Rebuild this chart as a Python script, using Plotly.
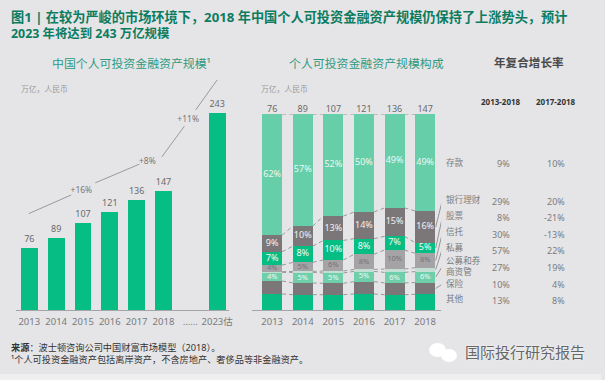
import plotly.graph_objects as go

W, H = 605, 380
FONT = "Noto Sans, Noto Sans CJK SC"

# Left chart
years_left = ["2013", "2014", "2015", "2016", "2017", "2018", "……", "2023估"]
left_pos = [0, 1, 2, 3, 4, 5, 7]
left_values = [76, 89, 107, 121, 136, 147, 243]
trend_x = [-0.02, 1.56, None, 2.46, 4.1, None, 4.94, 5.78, None, 6.2, 7.0]
trend_y = [119, 142, None, 157, 180, None, 189, 227, None, 247, 284]
trend_labels = ["+16%", "+8%", "+11%"]
trend_label_x = [1.94, 4.4, 5.92]
trend_label_y = [147, 183, 235]

# Right chart
years_right = ["2013", "2014", "2015", "2016", "2017", "2018"]
totals = [76, 89, 107, 121, 136, 147]
other = [8.2, 7.8, 7.8, 8.2, 7.8, 8.0]
insurance = [6.6, 6.0, 5.8, 6.3, 6.0, 6.0]
funds = [4.4, 5.4, 5.3, 5.2, 5.4, 5.6]
private_eq = [0.3, 0.5, 1.0, 1.0, 1.7, 2.0]
trusts = [3.4, 4.6, 5.6, 7.7, 9.7, 7.3]
stocks = [6.8, 8.3, 10.0, 8.0, 7.0, 5.4]
wealth = [8.5, 10.2, 12.4, 13.6, 14.5, 16.2]
deposits = [61.7, 57.1, 52.0, 50.0, 47.9, 49.5]

deposit_labels = ["62%", "57%", "52%", "50%", "49%", "49%"]
wealth_labels = ["9%", "10%", "13%", "14%", "15%", "16%"]
stock_labels = ["7%", "8%", "10%", "8%", "7%", "5%"]
trust_labels = ["4%", "5%", "6%", "8%", "10%", "8%"]
fund_labels = ["4%", "5%", "5%", "5%", "6%", "6%"]

# Growth table
cat_names = ["存款", "银行理财", "股票", "信托", "私募", "公募和券<br>商资管", "保险", "其他"]
cagr_long = ["9%", "29%", "8%", "30%", "57%", "27%", "10%", "13%"]
cagr_short = ["10%", "20%", "-21%", "-13%", "22%", "19%", "4%", "8%"]

BG = "#e5e5e8"
GREEN = "#06bd84"
DARK = "#7b7779"
MINT = "#66cea8"
GREY = "#a5a3a5"
PALE = "#c3dfd3"
MINT2 = "#70cfab"

def px(x):
    return x / W

def py(y):
    return 1 - y / H

fig = go.Figure()

# Left bars
fig.add_bar(x=left_pos, y=left_values, width=0.63, marker=dict(color=GREEN, line_width=0),
            text=[str(v) for v in left_values], textposition="outside", cliponaxis=False,
            textfont=dict(size=9, color="#6a6a6a", family=FONT), xaxis="x", yaxis="y", showlegend=False)
fig.add_scatter(x=trend_x, y=trend_y, mode="lines", line=dict(color="#9a9a9a", width=1),
                xaxis="x", yaxis="y", showlegend=False, cliponaxis=False)
fig.add_scatter(x=trend_label_x, y=trend_label_y, mode="text", text=trend_labels,
                textfont=dict(size=8.5, color="#777777", family=FONT), xaxis="x", yaxis="y",
                showlegend=False, cliponaxis=False)

# Right stacked bars
stack = [other, insurance, funds, private_eq, trusts, stocks, wealth, deposits]
colors = [GREEN, DARK, MINT2, PALE, GREY, GREEN, DARK, MINT]
xs = list(range(6))
for vals, col in zip(stack, colors):
    fig.add_bar(x=xs, y=vals, width=0.65, marker=dict(color=col, line_width=0),
                xaxis="x2", yaxis="y2", showlegend=False)

# Stack boundaries for connectors and labels
cum = []
running = [0.0] * 6
for vals in stack:
    running = [r + v for r, v in zip(running, vals)]
    cum.append(list(running))

half = 0.325
for level in cum[:-1]:
    lx, ly = [], []
    for i in range(5):
        lx += [i + half, i + 1 - half, None]
        ly += [level[i], level[i + 1], None]
    fig.add_scatter(x=lx, y=ly, mode="lines", line=dict(color="#8e8e8e", width=0.9, dash="4px,3px"),
                    xaxis="x2", yaxis="y2", showlegend=False)
lx, ly = [], []
for i in range(5):
    lx += [i + half, i + 1 - half, None]
    ly += [100, 100, None]
fig.add_scatter(x=lx, y=ly, mode="lines", line=dict(color="#8e8e8e", width=0.9, dash="4px,3px"),
                xaxis="x2", yaxis="y2", showlegend=False)

def seg_labels(idx, labels, color, size=9):
    mids = [c - v / 2 for c, v in zip(cum[idx], stack[idx])]
    fig.add_scatter(x=xs, y=mids, mode="text", text=labels,
                    textfont=dict(size=size, color=color, family=FONT),
                    xaxis="x2", yaxis="y2", showlegend=False)

seg_labels(7, deposit_labels, "#eef8f4")
seg_labels(6, wealth_labels, "#f2f2f2")
seg_labels(5, stock_labels, "#f2fbf7")
seg_labels(4, trust_labels, "#757375", 7.5)
seg_labels(2, fund_labels, "#eef8f4", 7.5)

fig.add_scatter(x=xs, y=[100] * 6, mode="text", text=[str(t) for t in totals], textposition="top center",
                textfont=dict(size=9, color="#6a6a6a", family=FONT), xaxis="x2", yaxis="y2",
                showlegend=False, cliponaxis=False)

# Leader lines from the 2018 bar to the names at right
row_y = [163, 201, 217, 234, 250, 267, 284, 300]
name_y = [163, 199.5, 216, 232, 248, 266, 284, 299]
leader_map = [(6, 1), (5, 2), (4, 3), (3, 4), (2, 5), (1, 6)]
for s_idx, r_idx in leader_map:
    mid = cum[s_idx][5] - stack[s_idx][5] / 2
    fig.add_scatter(x=[5.345, 5.57], y=[mid, (310 - name_y[r_idx]) / 1.96], mode="lines",
                    line=dict(color="#8a8a8a", width=0.9), xaxis="x2", yaxis="y2",
                    showlegend=False, cliponaxis=False)

def note(x, y, text, size=9, color="#777777", anchor="left", bold=False, **kw):
    if bold:
        text = f"<b>{text}</b>"
    fig.add_annotation(x=px(x), y=py(y), xref="paper", yref="paper", text=text, showarrow=False,
                       xanchor=anchor, yanchor="middle", align=anchor,
                       font=dict(size=size, color=color, family=FONT, **kw))

TITLE = "#0c7c60"
note(9, 17, "图1 | 在较为严峻的市场环境下，2018 年中国个人可投资金融资产规模仍保持了上涨势头，预计", 13.2, TITLE, bold=True)
note(9, 33.5, "2023 年将达到 243 万亿规模", 12.4, TITLE, bold=True)
note(132, 63, "中国个人可投资金融资产规模¹", 11.9, "#2f9a80", "center")
note(369, 63, "个人可投资金融资产规模构成", 11.9, "#2f9a80", "center")
note(533, 63, "年复合增长率", 11.6, "#4a4a4a", "center", bold=True)
note(19, 89, "万亿，人民币", 7.8, "#9a9a9a")
note(261, 89, "万亿，人民币", 7.8, "#9a9a9a")
note(504, 101, "2013-2018", 8, "#333333", "center", bold=True)
note(560, 101, "2017-2018", 8, "#333333", "center", bold=True)

for name, a, b, y, ny in zip(cat_names, cagr_long, cagr_short, row_y, name_y):
    note(447, ny, name, 8.6, "#7c7c7c")
    note(515, y, a, 9, "#7c7c7c", "right")
    note(571, y, b, 9, "#7c7c7c", "right")

note(9, 347, "<b>来源</b>：波士顿咨询公司中国财富市场模型（2018）。", 9.2, "#333333")
note(9, 359, "¹个人可投资金融资产包括离岸资产，不含房地产、奢侈品等非金融资产。", 9.2, "#333333")
note(466, 352, "国际投行研究报告", 15, "#666666", shadow="0 0 2px #ffffff")

shapes = [
    dict(type="rect", xref="paper", yref="paper", x0=0, x1=1, y0=0, y1=py(374),
         fillcolor="#efeff0", line_width=0, layer="below"),
    dict(type="circle", xref="paper", yref="paper", x0=px(432), x1=px(449), y0=py(357), y1=py(343),
         fillcolor="#ffffff", line_width=0, layer="above"),
    dict(type="circle", xref="paper", yref="paper", x0=px(444), x1=px(460), y0=py(362), y1=py(349),
         fillcolor="#ffffff", line_width=0, layer="above"),
]

axis_font = dict(size=9.5, color="#7a7a7a", family=FONT)
fig.update_layout(
    width=W, height=H, autosize=False, margin=dict(l=0, r=0, t=0, b=0),
    paper_bgcolor=BG, plot_bgcolor="rgba(0,0,0,0)", barmode="stack", showlegend=False,
    font=dict(family=FONT), shapes=shapes,
    xaxis=dict(domain=[px(16), px(231)], range=[-0.5, 7.46], tickmode="array", tickangle=0,
               tickvals=[0, 1, 2, 3, 4, 5, 6, 7], ticktext=years_left, showgrid=False, zeroline=False,
               showline=True, linecolor="#a5a5a5", linewidth=1, ticks="outside", ticklen=3, tickcolor=BG,
               tickfont=axis_font, anchor="y"),
    yaxis=dict(domain=[py(310), py(67)], range=[0, 300], visible=False, anchor="x"),
    xaxis2=dict(domain=[px(254), px(444)], range=[-0.649, 5.52], tickmode="array", tickangle=0,
                tickvals=xs, ticktext=years_right, showgrid=False, zeroline=False,
                showline=True, linecolor="#a5a5a5", linewidth=1, ticks="outside", ticklen=3, tickcolor=BG,
                tickfont=axis_font, anchor="y2"),
    yaxis2=dict(domain=[py(310), py(114)], range=[0, 100], visible=False, anchor="x2"),
)

fig.write_html(
    "out.html",
    config={"responsive": False, "displayModeBar": False},
    default_width="605px",
    default_height="380px",
    post_script="document.body.style.margin='0';document.documentElement.style.overflow='hidden';document.body.style.overflow='hidden';",
)
